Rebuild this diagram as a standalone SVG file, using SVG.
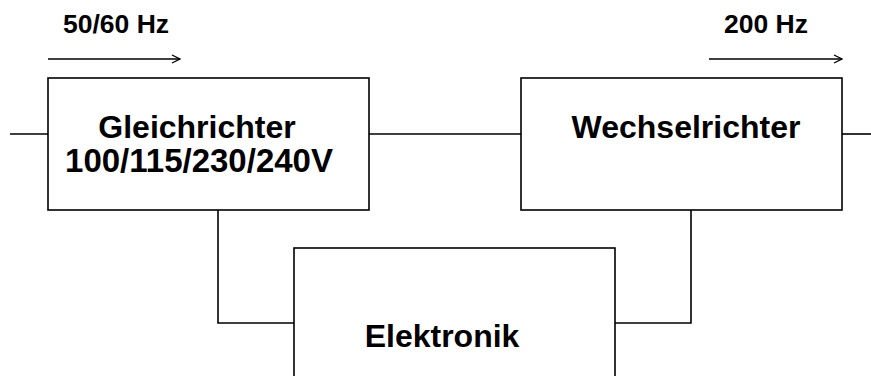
<svg xmlns="http://www.w3.org/2000/svg" width="871" height="376" viewBox="0 0 871 376">
<style>
.box{fill:#fff;stroke:#000;stroke-width:1.6}
.ln{fill:none;stroke:#000;stroke-width:1.6}
.t{font-family:"Liberation Sans",Arial,sans-serif;font-weight:bold;fill:#000}
.big{font-size:32px}
.sm{font-size:26.5px}
</style>
<defs>
<marker id="arr" viewBox="0 0 10 10" refX="9" refY="5" markerWidth="10" markerHeight="10" markerUnits="userSpaceOnUse" orient="auto">
<path d="M1,1 L9,5 L1,9" fill="none" stroke="#000" stroke-width="1.3"/>
</marker>
</defs>
<rect width="871" height="376" fill="#fff"/>
<g id="connectors">
<path class="ln" d="M10,134 H48"/>
<path class="ln" d="M369,134 H521"/>
<path class="ln" d="M842,134 H871"/>
<path class="ln" d="M218,210 V323 H294"/>
<path class="ln" d="M691,210 V323 H615"/>
<path class="ln" d="M48,59 H180" marker-end="url(#arr)"/>
<path class="ln" d="M709,59 H842" marker-end="url(#arr)"/>
</g>
<g id="label-50-60">
<text class="t sm" x="63" y="33">50/60 Hz</text>
</g>
<g id="label-200">
<text class="t sm" x="724" y="33">200 Hz</text>
</g>
<g id="gleichrichter">
<rect class="box" x="48" y="78" width="321" height="132"/>
<text class="t big" x="197" y="138" text-anchor="middle">Gleichrichter</text>
<text class="t big" x="199" y="172" text-anchor="middle" style="font-size:33px">100/115/230/240V</text>
</g>
<g id="wechselrichter">
<rect class="box" x="521" y="78" width="321" height="132"/>
<text class="t big" x="686" y="138" text-anchor="middle">Wechselrichter</text>
</g>
<g id="elektronik">
<rect class="box" x="294" y="248" width="321" height="140"/>
<text class="t big" x="442" y="347" text-anchor="middle">Elektronik</text>
</g>
</svg>
